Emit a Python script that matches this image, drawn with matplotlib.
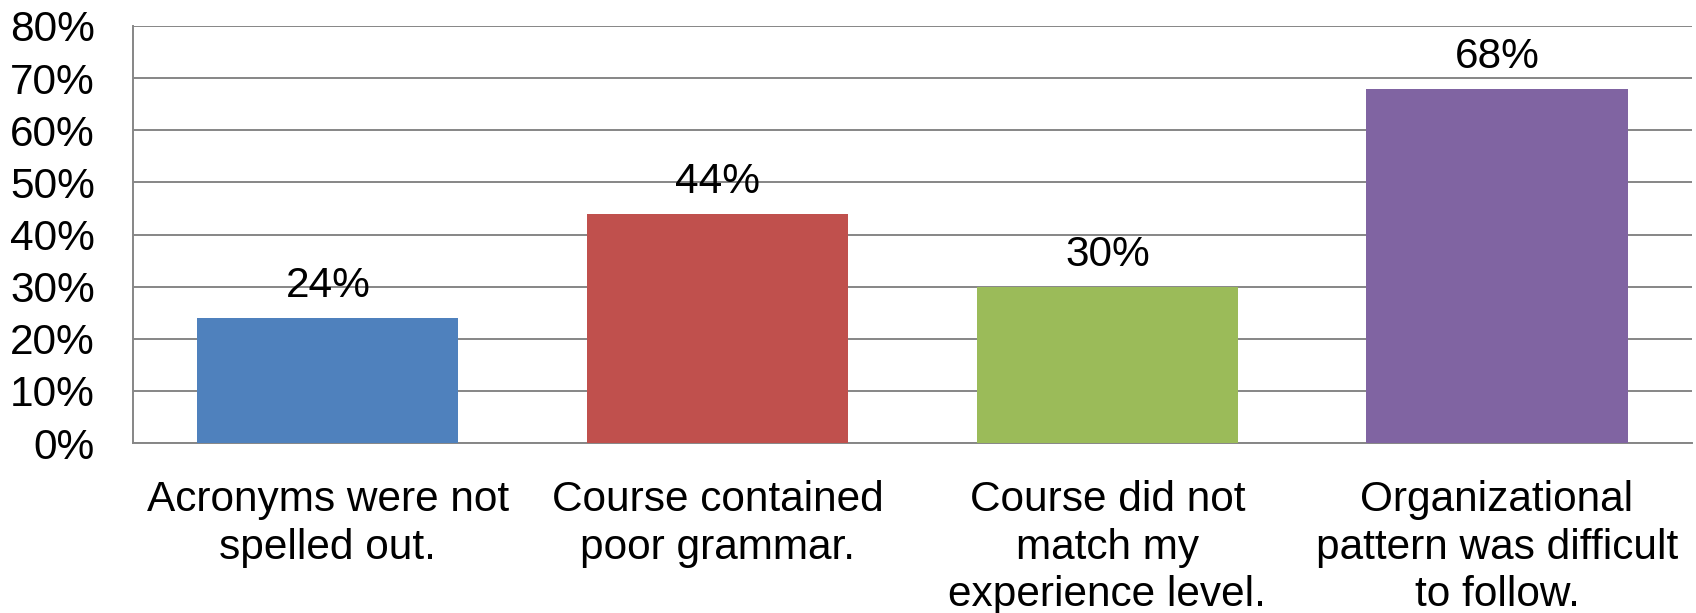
import numpy as np
import matplotlib
matplotlib.use('Agg')
import matplotlib.pyplot as plt

plt.rcParams['font.family'] = ['Liberation Sans', 'DejaVu Sans']

# 数据
categories = ['Acronyms were not\nspelled out.',
              'Course contained\npoor grammar.',
              'Course did not\nmatch my\nexperience level.',
              'Organizational\npattern was difficult\nto follow.']
values = [0.24, 0.44, 0.30, 0.68]
colors = ['#4F81BD', '#C0504D', '#9BBB59', '#8064A2']
yticks = [0, 0.1, 0.2, 0.3, 0.4, 0.5, 0.6, 0.7, 0.8]

fs = 30.5

fig = plt.figure(figsize=(16.96, 6.13), dpi=100)
ax = fig.add_axes([0.0784, 0.2773, 0.9192, 0.6803])

x_pos = np.arange(len(categories))
bars = ax.bar(x_pos, values, color=colors, width=0.67, zorder=3)

# 数值标签
for bar, v in zip(bars, values):
    ax.annotate(f'{v*100:.0f}%', (bar.get_x() + bar.get_width()/2, v),
                xytext=(0, 15), textcoords='offset points',
                ha='center', va='baseline', fontsize=fs)

ax.set_xlim(-0.5, len(categories) - 0.5)
ax.set_ylim(0, 0.8)
ax.set_yticks(yticks)
ax.set_yticklabels([f'{t*100:.0f}%' for t in yticks], fontsize=fs)
ax.set_xticks(x_pos)
ax.set_xticklabels(categories, fontsize=fs, linespacing=1.25)
ax.tick_params(axis='both', length=0)
ax.tick_params(axis='y', pad=27.5)
ax.tick_params(axis='x', pad=26.5)

ax.grid(True, axis='y', color='#868686', linewidth=1.4, zorder=0)
for s in ['top', 'right']:
    ax.spines[s].set_visible(False)
for s in ['left', 'bottom']:
    ax.spines[s].set_color('#868686')
    ax.spines[s].set_linewidth(1.4)

fig.savefig('out.png', dpi=100)
